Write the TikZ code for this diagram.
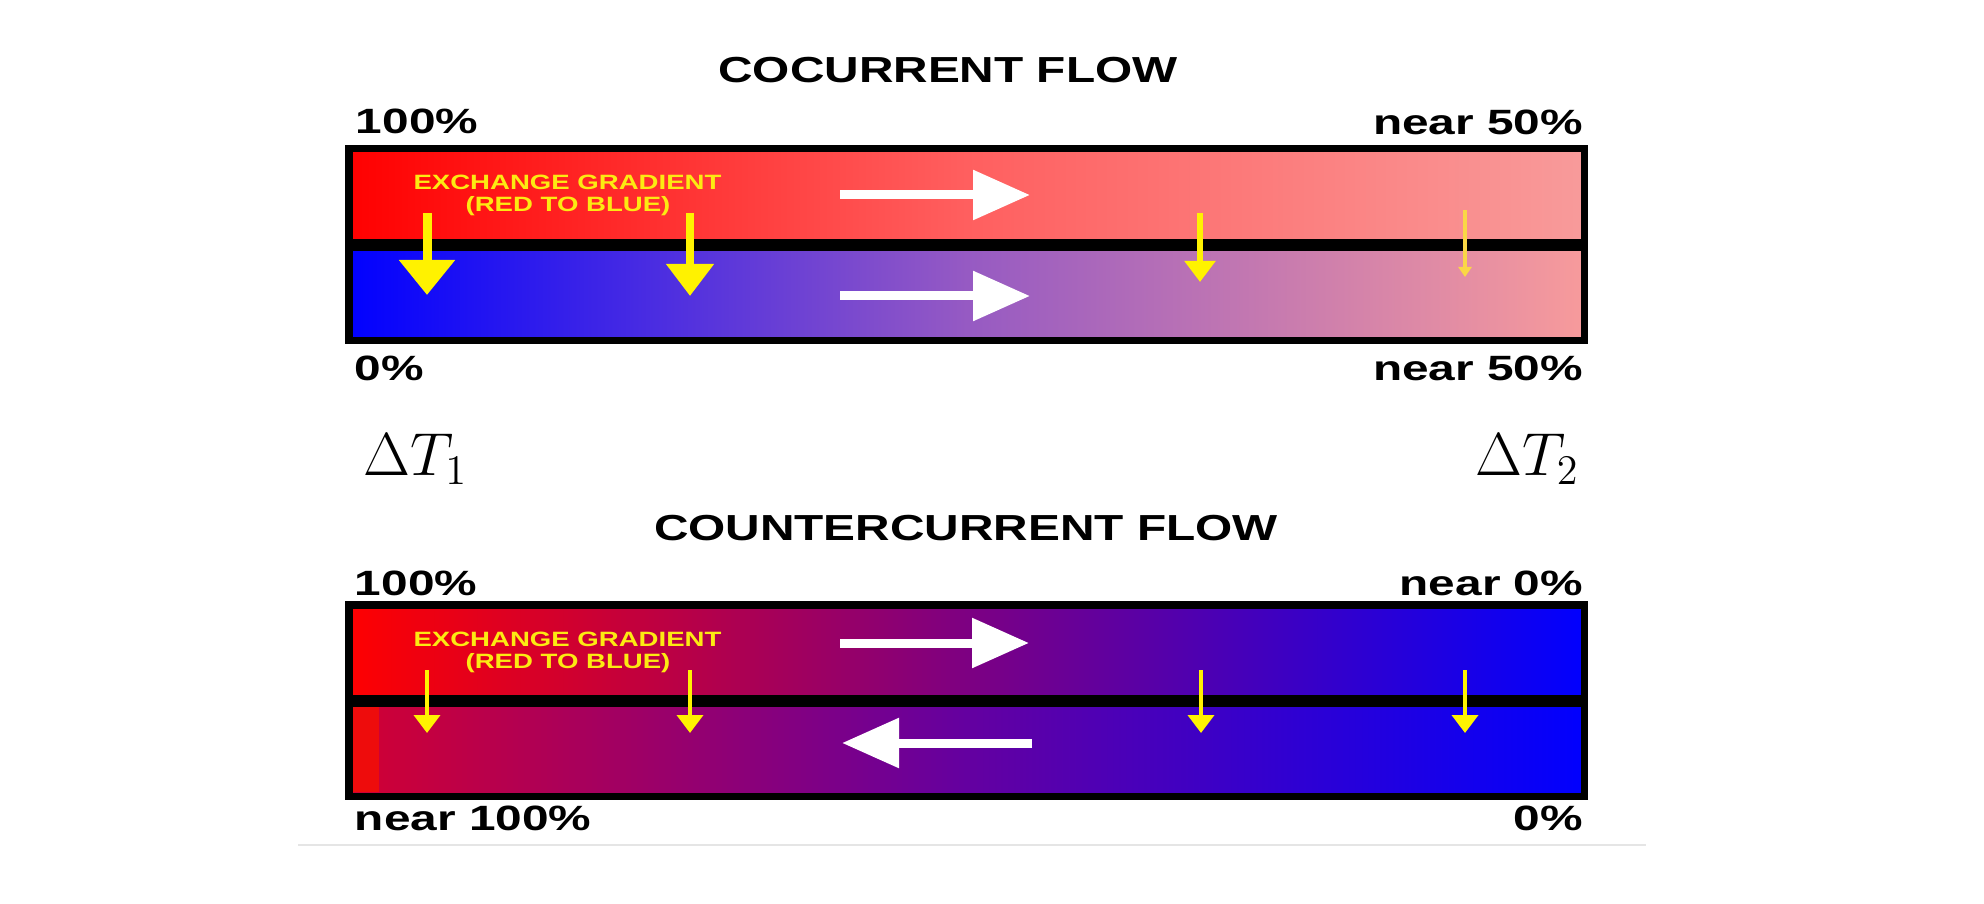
\documentclass[tikz,border=0pt]{standalone}
\usepackage{fontspec}
\setsansfont{Liberation Sans}
\usetikzlibrary{arrows.meta,positioning}
\definecolor{pinkend}{RGB}{248,155,155}
\definecolor{redmid}{RGB}{255,95,95}
\definecolor{lilac}{RGB}{150,90,195}
\definecolor{plum}{RGB}{125,0,130}
\definecolor{crimson}{RGB}{210,0,50}
\definecolor{violetmid}{RGB}{100,0,160}
\definecolor{pureblue}{RGB}{0,0,255}
\definecolor{striped}{RGB}{238,12,12}
\definecolor{gradyellow}{RGB}{252,234,18}
\definecolor{paleyellow}{RGB}{250,215,70}
\begin{document}
\begin{tikzpicture}[
  tube/.style={rectangle, draw=none, inner sep=0, anchor=north west, minimum width=12.42cm, minimum height=0.99cm},
  frame/.style={draw=black, line width=0.075cm},
  divider/.style={draw=black, line width=0.12cm},
  heading/.style={font=\sffamily\bfseries\fontsize{10.3}{12}\selectfont, inner sep=0, xscale=1.32},
  pct/.style={font=\sffamily\bfseries\fontsize{10}{12}\selectfont, inner sep=0, xscale=1.36},
  gradtext/.style={font=\sffamily\bfseries\fontsize{5.9}{7}\selectfont, text=gradyellow, inner sep=0, xscale=1.33},
  delta/.style={font=\fontsize{17}{20}\selectfont, inner sep=0},
  flow/.style={draw=white, line width=0.09cm, -{Triangle[length=0.57cm, width=0.48cm]}},
  xfer/.style={draw=yellow, line width=0.04cm, -{Triangle[length=0.18cm, width=0.26cm]}}]
\useasboundingbox (0,0) rectangle (19.84,-9.04);
\fill[white] (0,0) rectangle (19.84,-9.04);

% cocurrent
\node[heading, anchor=base] (cotitle) at (9.48,-0.83) {COCURRENT FLOW};
\node[tube, left color=red, right color=pinkend, middle color=redmid] (cohot) at (3.45,-1.45) {};
\node[tube, left color=pureblue, right color=pinkend, middle color=lilac] (cocold) at (3.45,-2.44) {};
\draw[divider] (cohot.south west) -- (cohot.south east);
\draw[frame] ([shift={(0.0375,-0.0375)}]cohot.north west) rectangle ([shift={(-0.0375,0.0375)}]cocold.south east);
\node[pct, anchor=base west] (cohotin) at (3.55,-1.34) {100\%};
\node[pct, anchor=base east] (cohotout) at (15.84,-1.35) {near 50\%};
\node[pct, anchor=base west] (cocoldin) at (3.54,-3.81) {0\%};
\node[pct, anchor=base east] (cocoldout) at (15.84,-3.80) {near 50\%};
\node[gradtext, anchor=base] (cograd) at (5.675,-1.90) {EXCHANGE GRADIENT};
\node[gradtext, anchor=base] (cogradsub) at (5.68,-2.12) {(RED TO BLUE)};
\draw[flow] (8.40,-1.95) -- (10.30,-1.95);
\draw[flow] (8.40,-2.96) -- (10.30,-2.96);
\foreach \x/\tip/\hl/\hw/\lw in {4.27/2.95/0.35cm/0.54cm/0.09cm, 6.90/2.96/0.32cm/0.46cm/0.08cm, 12.00/2.82/0.21cm/0.30cm/0.06cm}
  \draw[yellow, line width=\lw, -{Triangle[length=\hl, width=\hw]}] (\x,-2.13) -- (\x,-\tip);
\draw[paleyellow, line width=0.035cm, -{Triangle[length=0.10cm, width=0.13cm]}] (14.65,-2.10) -- (14.65,-2.77);

\node[delta, anchor=base west] (dt1) at (3.63,-4.75) {$\Delta T_1$};
\node[delta, anchor=base east] (dt2) at (15.80,-4.75) {$\Delta T_2$};

% countercurrent
\node[heading, anchor=base] (cctitle) at (9.66,-5.40) {COUNTERCURRENT FLOW};
\node[tube, left color=red, right color=pureblue, middle color=plum] (cchot) at (3.45,-6.01) {};
\node[tube, left color=crimson, right color=pureblue, middle color=violetmid] (cccold) at (3.45,-7.00) {};
\fill[striped] (3.53,-7.06) rectangle (3.79,-7.92);
\draw[divider] (cchot.south west) -- (cchot.south east);
\draw[frame] ([shift={(0.0375,-0.0375)}]cchot.north west) rectangle ([shift={(-0.0375,0.0375)}]cccold.south east);
\node[pct, anchor=base west] (cchotin) at (3.54,-5.95) {100\%};
\node[pct, anchor=base east] (cchotout) at (15.84,-5.95) {near 0\%};
\node[pct, anchor=base west] (cccoldout) at (3.54,-8.30) {near 100\%};
\node[pct, anchor=base east] (cccoldin) at (15.84,-8.30) {0\%};
\node[gradtext, anchor=base] (ccgrad) at (5.675,-6.46) {EXCHANGE GRADIENT};
\node[gradtext, anchor=base] (ccgradsub) at (5.68,-6.68) {(RED TO BLUE)};
\draw[flow] (8.40,-6.43) -- (10.29,-6.43);
\draw[flow] (10.32,-7.43) -- (8.42,-7.43);
\foreach \x in {4.27,6.90,12.01,14.65}
  \draw[xfer] (\x,-6.70) -- (\x,-7.33);

\draw[black!10, line width=0.02cm] (2.98,-8.45) -- (16.46,-8.45);
\end{tikzpicture}
\end{document}
